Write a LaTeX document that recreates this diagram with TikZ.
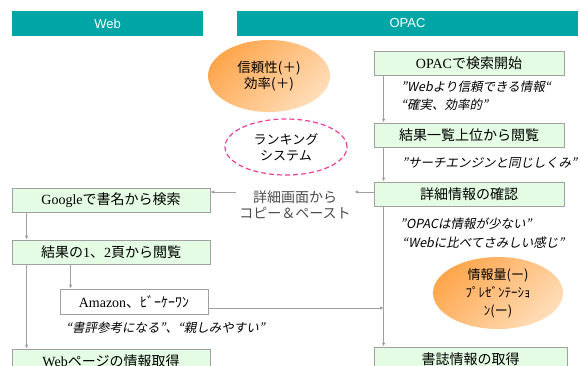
\documentclass[tikz,border=0pt]{standalone}
\usepackage{fontspec}
\setmainfont{Noto Sans CJK JP}
\newfontfamily\jpit[FakeSlant=0.2]{Noto Sans CJK JP}
\newfontfamily\romfont{Liberation Serif}
\newfontfamily\hdrfont{Liberation Sans}
\usetikzlibrary{shapes.geometric,arrows.meta}
\definecolor{tealhead}{HTML}{00A6A6}
\definecolor{boxgreen}{HTML}{E3FCE3}
\definecolor{linegray}{HTML}{A0A0A0}
\definecolor{ora1}{HTML}{FFA64D}
\definecolor{ora2}{HTML}{FFDDB8}
\definecolor{pinkdash}{HTML}{E8409C}
\begin{document}
\begin{tikzpicture}[x=1pt,y=-1pt,
  header/.style={fill=tealhead,text=white,font=\hdrfont\fontsize{13}{15}\selectfont,minimum height=25pt,inner sep=0pt},
  stepbox/.style={draw=linegray,fill=boxgreen,line width=0.8pt,minimum height=24pt,inner sep=0pt,font=\fontsize{14}{16}\selectfont},
  voice/.style={anchor=west,inner sep=0pt,font=\jpit\fontsize{12.5}{15}\selectfont},
  blob/.style={ellipse,top color=ora1,bottom color=ora2,shading angle=45,inner sep=0pt,align=center},
  flow/.style={draw=linegray,line width=1pt,-{Latex[length=4pt,width=3.5pt]}}]
\useasboundingbox (0,0) rectangle (580,365);
\clip (0,0) rectangle (580,365);
% column heads
\node[header,minimum width=191pt] (hweb) at (107.5,23.5) {Web};
\node[header,minimum width=341pt] (hopac) at (407.5,23.5) {OPAC};
% OPAC side
\node[stepbox,minimum width=190pt] (o1) at (469,63) {{\romfont OPAC}で検索開始};
\node[voice] (q1) at (401,87) {”Webより信頼できる情報“};
\node[voice] (q2) at (401,105) {“確実、効率的”};
\node[stepbox,minimum width=190pt] (o2) at (469,135) {結果一覧上位から閲覧};
\node[voice] (q3) at (402,163) {”サーチエンジンと同じしくみ”};
\node[stepbox,minimum width=190pt] (o3) at (469,194) {詳細情報の確認};
\node[voice] (q4) at (400,224) {”OPACは情報が少ない”};
\node[voice] (q5) at (402,243) {“Webに比べてさみしい感じ”};
\node[stepbox,minimum width=193pt] (o4) at (470.5,359) {書誌情報の取得};
% Web side
\node[stepbox,minimum width=198pt] (w1) at (111,200) {{\romfont Google}で書名から検索};
\node[stepbox,minimum width=198pt] (w2) at (111,252) {結果の{\romfont 1}、{\romfont 2}頁から閲覧};
\node[stepbox,fill=white,minimum width=148pt,minimum height=25pt] (am) at (134,301.5) {{\romfont Amazon}、ﾋﾞｰｹｰﾜﾝ};
\node[voice] (q6) at (66,328) {“書評参考になる”、“親しみやすい”};
\node[stepbox,minimum width=198pt] (w4) at (111,361) {{\romfont Web}ページの情報取得};
% bubbles
\node[blob,minimum width=122pt,minimum height=72pt,font=\fontsize{13.5}{16}\selectfont] (e1) at (269,76) {信頼性(＋)\\効率(＋)};
\node[ellipse,draw=pinkdash,dash pattern=on 5pt off 3pt,line width=1.2pt,minimum width=122pt,minimum height=56pt,align=center,font=\fontsize{13}{16}\selectfont] (rank) at (286,147) {ランキング\\システム};
\node[blob,minimum width=130pt,minimum height=72pt,font=\fontsize{13}{18}\selectfont] (e2) at (498,293) {情報量(ー)\\ﾌﾟﾚｾﾞﾝﾃｰｼｮ\\ﾝ(ー)};
\node[text=black!70,align=center,font=\fontsize{14}{16}\selectfont] (cp) at (295,205) {詳細画面から\\コピー＆ペースト};
% connectors
\coordinate (jn) at (384,308);
\draw[flow] ([xshift=10pt]o1.south west) -- ([xshift=10pt]o2.north west);
\draw[flow] ([xshift=10pt]o2.south west) -- ([xshift=10pt]o3.north west);
\draw[flow] ([xshift=10pt]o3.south west) -- ([xshift=10pt]o4.north west);
\draw[flow] ([yshift=2pt]o3.west) -- ([yshift=2pt]cp.east |- o3.west);
\draw[flow] ([yshift=2pt]cp.west |- o3.west) -- ([yshift=2pt]w1.east |- o3.west);
\draw[flow] ([xshift=15pt]w1.south west) -- ([xshift=15pt]w2.north west);
\draw[flow] ([xshift=15pt]w2.south west) -- ([xshift=15pt]w4.north west);
\draw[flow] ([xshift=11pt]am.north west |- w2.south) -- ([xshift=11pt]am.north west);
\draw[flow] (am.east |- jn) -- (jn);
\end{tikzpicture}
\end{document}
